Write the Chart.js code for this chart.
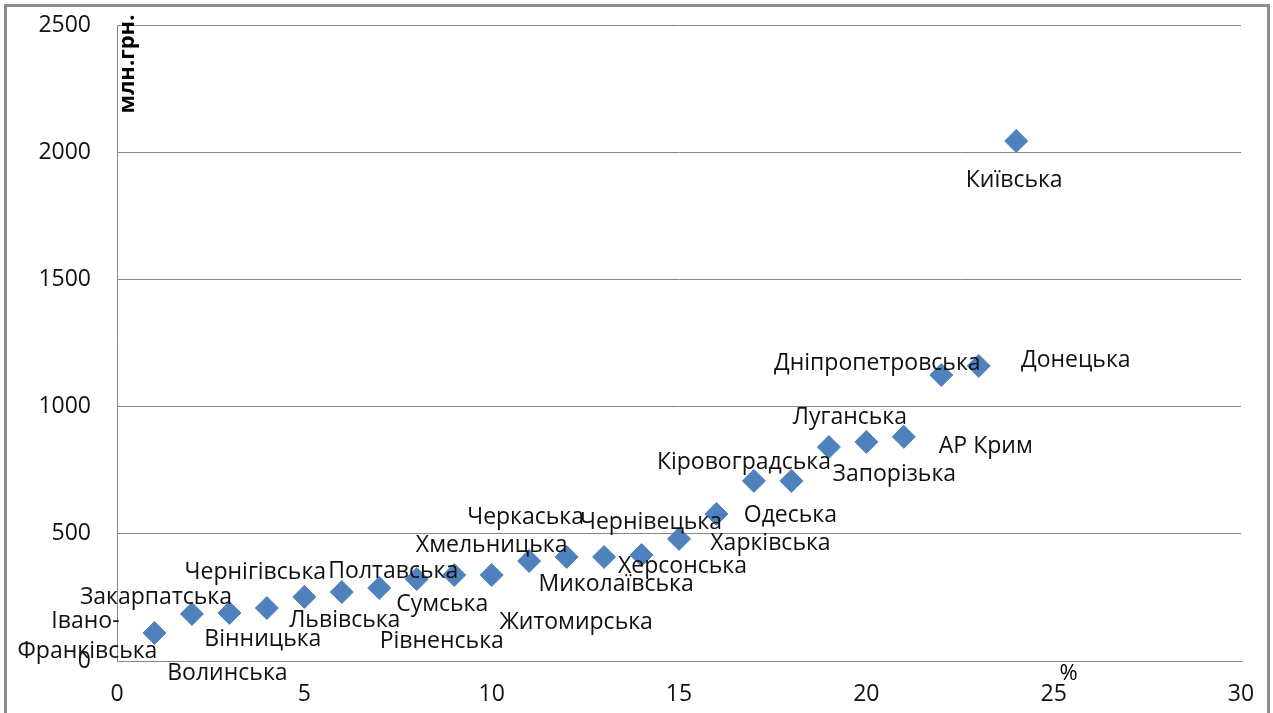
<!DOCTYPE html>
<html>
<head>
<meta charset="utf-8">
<script src="https://cdn.jsdelivr.net/npm/chart.js@4.4.1/dist/chart.umd.min.js"></script>
<style>
  html, body { margin: 0; padding: 0; background: #fff; }
  #wrap { width: 1273px; height: 713px; position: relative; }
</style>
</head>
<body>
<div id="wrap"><canvas id="c" width="1273" height="713"></canvas></div>
<script>
// ---- data ----
const regions = ["Івано-Франківська","Закарпатська","Волинська","Вінницька","Чернігівська","Львівська","Полтавська","Рівненська","Сумська","Хмельницька","Житомирська","Черкаська","Миколаївська","Херсонська","Чернівецька","Харківська","Кіровоградська","Одеська","Луганська","Запорізька","АР Крим","Дніпропетровська","Донецька","Київська"];
const xValues = [1,2,3,4,5,6,7,8,9,10,11,12,13,14,15,16,17,18,19,20,21,22,23,24];
const yValues = [110,185,189,208,252,271,287,322,338,338,393,409,409,417,480,578,708,708,841,861,881,1124,1160,2044];
const xTicks = [0,5,10,15,20,25,30];
const yTicks = [0,500,1000,1500,2000,2500];
const yTitle = "млн.грн.";
const xTitle = "%";

// label placement (pixel offsets of label centre from marker centre)
const labelOffsets = [[-68,3],[-36,-16],[-2,61],[-4,31],[-49,-24],[3,28],[14,-17],[25,62],[-12,29],[0,-30],[47,61],[-41,-39],[12,28],[41,12],[-28,-16],[54,29],[-10,-18],[-1,35],[21,-30],[28,32],[82,10],[-64,-12],[97,-5],[-2,39]];

const FONT = "'Open Sans', 'DejaVu Sans', sans-serif";
const GRID = '#868686';

const framePlugin = {
  id: 'frame',
  beforeDraw(chart) {
    const ctx = chart.ctx;
    ctx.save();
    ctx.fillStyle = '#fff';
    ctx.fillRect(0, 0, chart.width, chart.height);
    ctx.strokeStyle = '#8c8c8c';
    ctx.lineWidth = 3;
    ctx.strokeRect(5.5, 5.5, 1263, 730);
    ctx.restore();
  }
};

const labelPlugin = {
  id: 'ptLabels',
  afterDatasetsDraw(chart) {
    const ctx = chart.ctx;
    const meta = chart.getDatasetMeta(0);
    ctx.save();
    ctx.fillStyle = '#111';
    ctx.font = "23px " + FONT;
    ctx.textAlign = 'center';
    ctx.textBaseline = 'middle';
    meta.data.forEach((pt, i) => {
      const [dx, dy] = labelOffsets[i];
      const name = regions[i];
      if (name === "Івано-Франківська") {
        ctx.fillText("Івано-", pt.x + dx - 1, pt.y + dy - 15);
        ctx.fillText("Франківська", pt.x + dx + 1, pt.y + dy + 15);
      } else {
        ctx.fillText(name, pt.x + dx, pt.y + dy);
      }
    });
    // axis titles
    const xs = chart.scales.x, ys = chart.scales.y;
    ctx.fillStyle = '#000';
    ctx.font = "bold 22px " + FONT;
    ctx.save();
    ctx.translate(xs.left + 11, ys.top + 39);
    ctx.rotate(-Math.PI / 2);
    ctx.fillText(yTitle, 0, 0);
    ctx.restore();
    ctx.font = "22px " + FONT;
    ctx.fillText(xTitle, xs.getPixelForValue(25.4), ys.bottom + 13);
    ctx.restore();
  }
};

new Chart(document.getElementById('c'), {
  type: 'scatter',
  data: {
    datasets: [{
      data: xValues.map((x, i) => ({ x: x, y: yValues[i] })),
      pointStyle: 'rectRot',
      pointRadius: 11.5,
      pointHoverRadius: 11.5,
      backgroundColor: '#4F81BD',
      borderColor: '#4F81BD',
      borderWidth: 1
    }]
  },
  options: {
    responsive: false,
    animation: false,
    devicePixelRatio: 1,
    layout: { padding: { left: 0, right: 32, top: 25, bottom: 0 } },
    plugins: { legend: { display: false }, tooltip: { enabled: false } },
    scales: {
      x: {
        type: 'linear',
        min: 0, max: 30,
        afterBuildTicks(s) { s.ticks = xTicks.map(v => ({ value: v })); },
        afterFit(s) { s.height = 713 - 661; s.paddingLeft = 0; s.paddingRight = 0; },
        grid: { display: false, drawTicks: false },
        border: { display: true, color: GRID, width: 1 },
        ticks: { color: '#111', font: { size: 23, family: FONT }, padding: 20, maxRotation: 0, callback: v => String(v) }
      },
      y: {
        type: 'linear',
        min: 0, max: 2500,
        afterBuildTicks(s) { s.ticks = yTicks.map(v => ({ value: v })); },
        afterFit(s) { s.width = 117; s.paddingTop = 0; s.paddingBottom = 0; },
        grid: { color: GRID, lineWidth: 1, drawTicks: false },
        border: { display: true, color: GRID, width: 1 },
        ticks: { color: '#111', font: { size: 23, family: FONT }, padding: 26, callback: v => String(v) }
      }
    }
  },
  plugins: [framePlugin, labelPlugin]
});
</script>
</body>
</html>
